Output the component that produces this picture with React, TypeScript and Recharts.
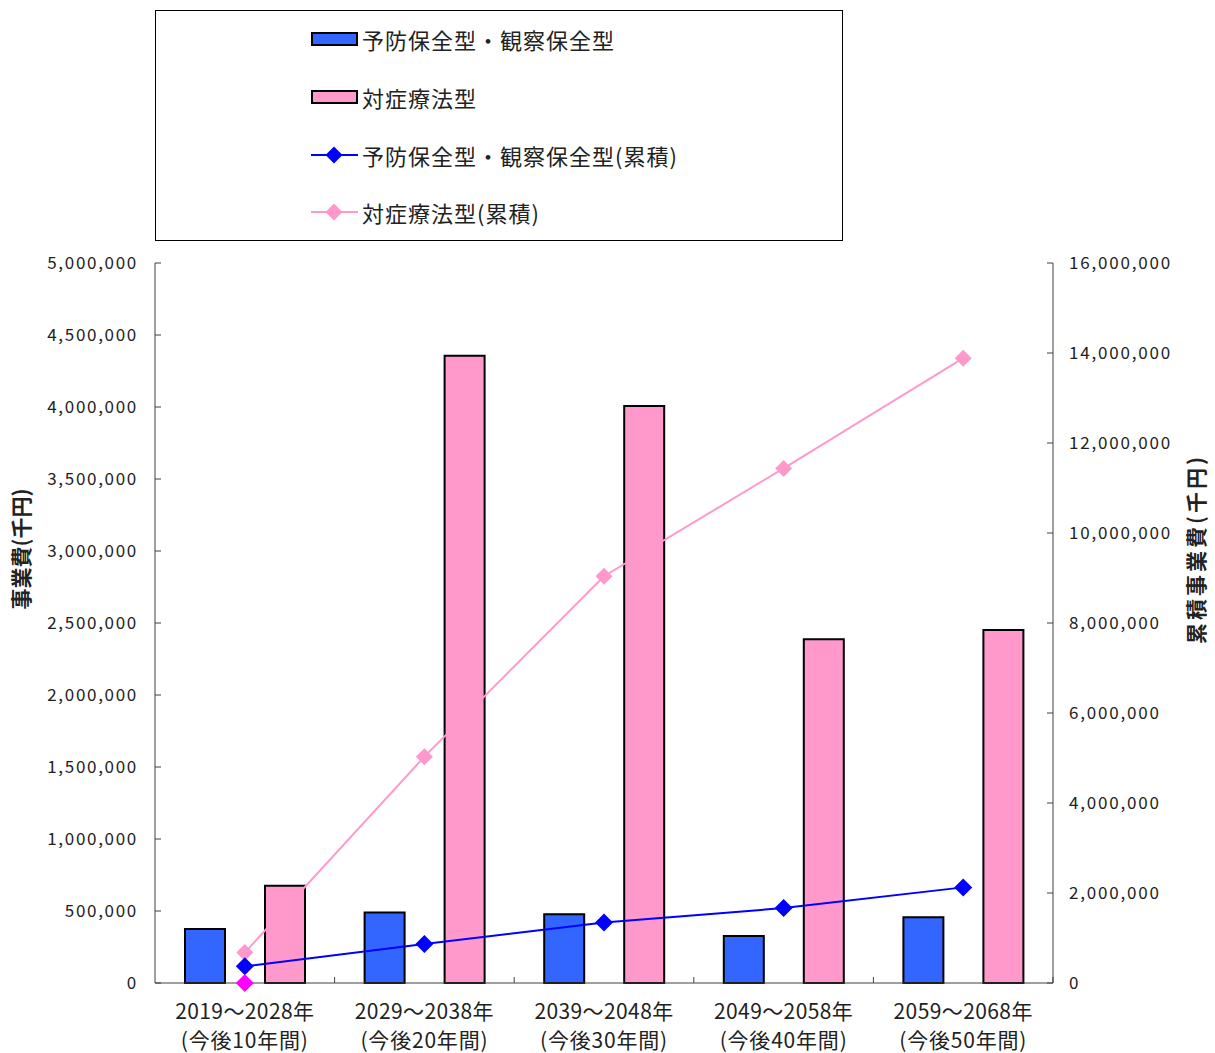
import React from "react";
import { ComposedChart, Bar, Line, XAxis, YAxis, Legend } from "recharts";

// values (千円)
const periods = ["2019～2028年", "2029～2038年", "2039～2048年", "2049～2058年", "2059～2068年"];
const periodNotes = ["(今後10年間)", "(今後20年間)", "(今後30年間)", "(今後40年間)", "(今後50年間)"];
const preventive = [375000, 490000, 477000, 326000, 456000];
const symptomatic = [676000, 4356000, 4007000, 2387000, 2451000];
const preventiveCum = [370000, 866000, 1345000, 1665000, 2125000];
const symptomaticCum = [676000, 5030000, 9040000, 11435000, 13885000];
const strayPoint = [0, null, null, null, null];
const leftTicks = [0, 500000, 1000000, 1500000, 2000000, 2500000, 3000000, 3500000, 4000000, 4500000, 5000000];
const rightTicks = [0, 2000000, 4000000, 6000000, 8000000, 10000000, 12000000, 14000000, 16000000];

const seriesNames = ["予防保全型・観察保全型", "対症療法型", "予防保全型・観察保全型(累積)", "対症療法型(累積)"];

const data = periods.map((p, i) => ({
  period: p,
  preventive: preventive[i],
  symptomatic: symptomatic[i],
  preventiveCum: preventiveCum[i],
  symptomaticCum: symptomaticCum[i],
  stray: strayPoint[i],
}));

const BLUE = "#3366FF";
const PINK = "#FF99CC";
const LINE_BLUE = "#0000FF";
const MAGENTA = "#FF00FF";
const AXIS = "#404040";
const TEXT = "#222";
const FONT = "'Noto Sans CJK JP', 'Noto Sans', sans-serif";

const PLOT_LEFT = 155;
const PLOT_RIGHT = 1053;
const PLOT_BOTTOM = 983;
const BAND = (PLOT_RIGHT - PLOT_LEFT) / periods.length;

const fmt = (v: number) => v.toLocaleString("en-US");

function Diamond({ cx, cy, r, color }: any) {
  if (cx == null || cy == null) return null;
  return (
    <path
      d={`M${cx},${cy - r} L${cx + r},${cy} L${cx},${cy + r} L${cx - r},${cy} Z`}
      fill={color}
    />
  );
}

function LeftTick({ y, payload }: any) {
  return (
    <g>
      <line x1={PLOT_LEFT} x2={PLOT_LEFT + 6} y1={y} y2={y} stroke={AXIS} />
      <text x={138} y={y} dy="0.35em" textAnchor="end" fontSize={17} letterSpacing={1.7} fill={TEXT} fontFamily={FONT}>
        {fmt(payload.value)}
      </text>
    </g>
  );
}

function RightTick({ y, payload }: any) {
  return (
    <g>
      <line x1={PLOT_RIGHT - 6} x2={PLOT_RIGHT} y1={y} y2={y} stroke={AXIS} />
      <text x={1069} y={y} dy="0.35em" textAnchor="start" fontSize={17} letterSpacing={1.8} fill={TEXT} fontFamily={FONT}>
        {fmt(payload.value)}
      </text>
    </g>
  );
}

function BottomTick({ x, payload, index }: any) {
  const bx = x + BAND / 2;
  return (
    <g>
      <line x1={bx} x2={bx} y1={PLOT_BOTTOM} y2={PLOT_BOTTOM - 6} stroke={AXIS} />
      <text x={x} y={1019} textAnchor="middle" fontSize={21} letterSpacing={0.4} fill={TEXT} fontFamily={FONT}>
        {payload.value}
      </text>
      <text x={x} y={1048} textAnchor="middle" fontSize={21} letterSpacing={0.8} fill={TEXT} fontFamily={FONT}>
        {periodNotes[index]}
      </text>
    </g>
  );
}

function AxisTitle({ cx, cy, text, spacing }: any) {
  return (
    <text
      x={cx}
      y={cy}
      transform={`rotate(-90 ${cx} ${cy})`}
      textAnchor="middle"
      dy="0.35em"
      fontSize={21}
      fontWeight="bold"
      letterSpacing={spacing}
      fill={TEXT}
      fontFamily={FONT}
    >
      {text}
    </text>
  );
}

function LegendBox() {
  const rows = [
    { name: seriesNames[0], kind: "bar", color: BLUE },
    { name: seriesNames[1], kind: "bar", color: PINK },
    { name: seriesNames[2], kind: "line", color: LINE_BLUE },
    { name: seriesNames[3], kind: "line", color: PINK },
  ];
  const rowY = [28, 86, 144, 201];
  return (
    <div
      style={{
        position: "relative",
        width: 688,
        height: 231,
        border: "1px solid #000",
        boxSizing: "border-box",
        background: "#fff",
        fontFamily: FONT,
      }}
    >
      {rows.map((r, i) => (
        <div
          key={r.name}
          style={{ position: "absolute", left: 154, top: rowY[i] - 14, height: 28, display: "flex", alignItems: "center" }}
        >
          <svg width={50} height={28}>
            {r.kind === "bar" ? (
              <rect x={2} y={8} width={45} height={12} fill={r.color} stroke="#000" strokeWidth={2} />
            ) : (
              <g>
                <line x1={1} x2={48} y1={14} y2={14} stroke={r.color} strokeWidth={2} />
                <Diamond cx={24} cy={14} r={8.5} color={r.color} />
              </g>
            )}
          </svg>
          <span style={{ marginLeft: 2, fontSize: 22, letterSpacing: 1, color: TEXT, whiteSpace: "nowrap", lineHeight: "28px" }}>
            {r.name}
          </span>
        </div>
      ))}
    </div>
  );
}

export default function App() {
  return (
    <div style={{ position: "absolute", left: 0, top: 0, width: 1215, height: 1053, background: "#fff" }}>
      <ComposedChart
        width={1215}
        height={1053}
        data={data}
        margin={{ top: 263, right: 0, bottom: 0, left: 0 }}
        barSize={40}
        barGap={40}
      >
        <XAxis
          dataKey="period"
          height={70}
          interval={0}
          tickLine={false}
          axisLine={{ stroke: AXIS }}
          tick={(p: any) => <BottomTick {...p} />}
        />
        <YAxis
          yAxisId="left"
          width={155}
          domain={[0, 5000000]}
          ticks={leftTicks}
          interval={0}
          tickLine={false}
          axisLine={{ stroke: AXIS }}
          tick={(p: any) => <LeftTick {...p} />}
          label={{ content: () => <AxisTitle cx={22} cy={549} text="事業費(千円)" spacing={0} /> }}
        />
        <YAxis
          yAxisId="right"
          orientation="right"
          width={162}
          domain={[0, 16000000]}
          ticks={rightTicks}
          interval={0}
          tickLine={false}
          axisLine={{ stroke: AXIS }}
          tick={(p: any) => <RightTick {...p} />}
          label={{ content: () => <AxisTitle cx={1197} cy={549} text="累積事業費(千円)" spacing={3} /> }}
        />
        <Legend
          layout="horizontal"
          align="center"
          verticalAlign="middle"
          wrapperStyle={{ top: 10, left: 155, width: 688, height: 231 }}
          content={() => <LegendBox />}
        />
        <Bar yAxisId="left" dataKey="preventive" name={seriesNames[0]} fill={BLUE} stroke="#000" strokeWidth={2} isAnimationActive={false} />
        <Bar yAxisId="left" dataKey="symptomatic" name={seriesNames[1]} fill={PINK} stroke="#000" strokeWidth={2} isAnimationActive={false} />
        <Line
          yAxisId="right"
          dataKey="symptomaticCum"
          name={seriesNames[3]}
          stroke={PINK}
          strokeWidth={2}
          dot={(p: any) => <Diamond key={`s${p.index}`} cx={p.cx} cy={p.cy} r={8.5} color={PINK} />}
          activeDot={false}
          isAnimationActive={false}
        />
        <Line
          yAxisId="right"
          dataKey="preventiveCum"
          name={seriesNames[2]}
          stroke={LINE_BLUE}
          strokeWidth={2}
          dot={(p: any) => <Diamond key={`p${p.index}`} cx={p.cx} cy={p.cy} r={9} color={LINE_BLUE} />}
          activeDot={false}
          isAnimationActive={false}
        />
        <Line
          yAxisId="right"
          dataKey="stray"
          stroke="none"
          legendType="none"
          dot={(p: any) => <Diamond key={`z${p.index}`} cx={p.cx} cy={p.cy} r={9} color={MAGENTA} />}
          activeDot={false}
          isAnimationActive={false}
        />
      </ComposedChart>
    </div>
  );
}
